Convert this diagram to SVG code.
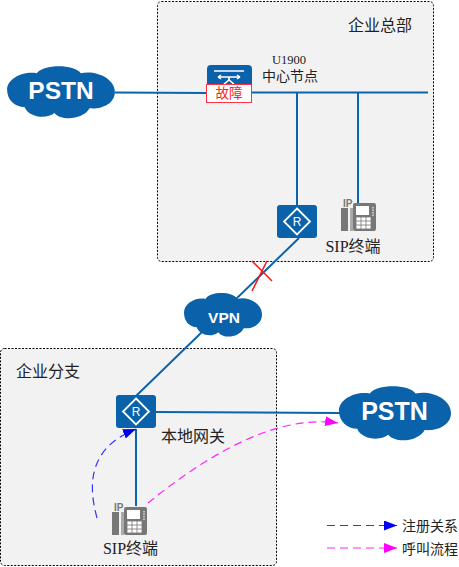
<svg xmlns="http://www.w3.org/2000/svg" width="459" height="567" viewBox="0 0 459 567">
<style>
.site{fill:#f2f2f2;stroke:#000;stroke-width:1;stroke-dasharray:2 1.5}
.link{fill:none;stroke:#0a64ad;stroke-width:2}
.blue{fill:#0a62ab}
.t{font-family:"Liberation Serif","Noto Sans CJK SC",serif;font-size:16px;fill:#222}
.cloud{font-family:"Liberation Sans",sans-serif;font-weight:bold;fill:#fff;text-anchor:middle}
.reg{fill:none;stroke:#3333ff;stroke-width:1.2;stroke-dasharray:8 5}
.call{fill:none;stroke:#ff22ff;stroke-width:1.2;stroke-dasharray:8 5}
</style>
<defs>
<path id="cl" d="M-47,-4C-47,-13 -33,-20 -20,-18C-14,-26 14,-26 20,-18C33,-21 51,-14 51,-2C51,8 39,13 28,12C22,22 2,23 -4,16C-12,22 -28,19 -31,11C-40,11 -47,5 -47,-4Z"/>
<g id="router"><rect x="-20" y="-16.500" width="40" height="33" rx="3" fill="#0a62ab"/><path d="M0,-13L13,0L0,13L-13,0Z" fill="none" stroke="#fff" stroke-width="1.800"/><text y="4.500" text-anchor="middle" font-family="Liberation Sans,sans-serif" font-size="12" fill="#fff">R</text></g>
<g id="phone"><text x="2" y="-3" font-family="Liberation Sans,sans-serif" font-weight="bold" font-size="10" fill="#777">IP</text><rect x="0" y="-2" width="7" height="23" fill="#777"/><rect x="9" y="-2" width="3" height="23" fill="#aaa"/><rect x="12" y="-7" width="23" height="28" rx="2" fill="#777"/><rect x="15" y="-4" width="13" height="9" fill="#fff"/><path d="M15,7h15v12h-15zM15,11h15M15,15h15M20,7v12M25,7v12" fill="#fff" stroke="#777" stroke-width=".8"/><path d="M32,-3v9" stroke="#ddd" stroke-width="1.500" stroke-dasharray="1.500 1"/></g>
<marker id="mb" markerUnits="userSpaceOnUse" markerWidth="14" markerHeight="10" refX="13" refY="5" orient="auto"><path d="M0,0L13,5L0,10Z" fill="#0000ee"/></marker>
<marker id="mp" markerUnits="userSpaceOnUse" markerWidth="14" markerHeight="10" refX="13" refY="5" orient="auto"><path d="M0,0L13,5L0,10Z" fill="#ff00ff"/></marker>
</defs>
<rect width="459" height="567" fill="#fff"/>
<g id="hq-site"><rect class="site" x="157.500" y="1.500" width="276" height="260" rx="4"/><text class="t" x="348" y="31">企业总部</text></g>
<g id="branch-site"><rect class="site" x="0.500" y="348.500" width="276" height="217" rx="4"/><text class="t" x="16" y="377">企业分支</text></g>
<g id="connectors">
<path class="link" d="M115,92.500L208,93M252,92.500H428M297,93V206M358,92V204M299,238L136,396M155,412L340,413M136,429V506"/>
<path d="M252,261L272,281M267,261L252,291" fill="none" stroke="#f11" stroke-width="1.500"/>
<path class="reg" d="M97,518C88,485 88,448 136,429" marker-end="url(#mb)"/>
<path class="call" d="M148,503C195,465 270,413 338,423" marker-end="url(#mp)"/>
</g>
<g id="pstn-top"><use href="#cl" class="blue" transform="translate(58.800,94.300) scale(1.100,1.170)"/><text class="cloud" x="61" y="99" font-size="24.500">PSTN</text></g>
<g id="pstn-right"><use href="#cl" class="blue" transform="translate(392.700,415.400) scale(1.143,1.217)"/><text class="cloud" x="394.500" y="420" font-size="25">PSTN</text></g>
<g id="vpn"><use href="#cl" class="blue" transform="translate(221.400,316.500) scale(.796,.978)"/><text class="cloud" x="224" y="323" font-size="15.500">VPN</text></g>
<g id="u1900"><rect x="207" y="65" width="45" height="25" rx="4" fill="#0a62ab"/><path d="M214,71H244M218,77H240M218,77l3,-2M218,77l3,2M240,77l-3,-2M240,77l-3,2M224,84C228,81 230,80 229,77M234,84C230,81 228,80 229,77" stroke="#fff" stroke-width="1.500" fill="none"/><rect x="206.500" y="84.500" width="45" height="18" fill="#fff" stroke="#f34" stroke-width="1"/><text x="229" y="98" text-anchor="middle" font-family="Noto Sans CJK SC,sans-serif" font-size="13.500" fill="#f22">故障</text><text class="t" x="289" y="64" text-anchor="middle" style="font-size:12.500px">U1900</text><text class="t" x="290" y="81" text-anchor="middle" style="font-size:14px">中心节点</text></g>
<g id="router-hq"><use href="#router" x="297" y="221.500"/></g>
<g id="phone-hq"><use href="#phone" x="341" y="210"/><text class="t" x="353" y="252" text-anchor="middle">SIP终端</text></g>
<g id="router-branch"><use href="#router" x="136" y="411.500"/></g>
<text id="gw-label" class="t" x="161" y="442">本地网关</text>
<g id="phone-branch"><use href="#phone" x="112" y="514"/><text class="t" x="130.500" y="554" text-anchor="middle">SIP终端</text></g>
<g id="legend"><path class="reg" d="M327,525.500H397" marker-end="url(#mb)"/><path class="call" d="M327,548H397" marker-end="url(#mp)"/><text class="t" x="402" y="531" style="font-size:14px">注册关系</text><text class="t" x="402" y="554" style="font-size:14px">呼叫流程</text></g>
</svg>
